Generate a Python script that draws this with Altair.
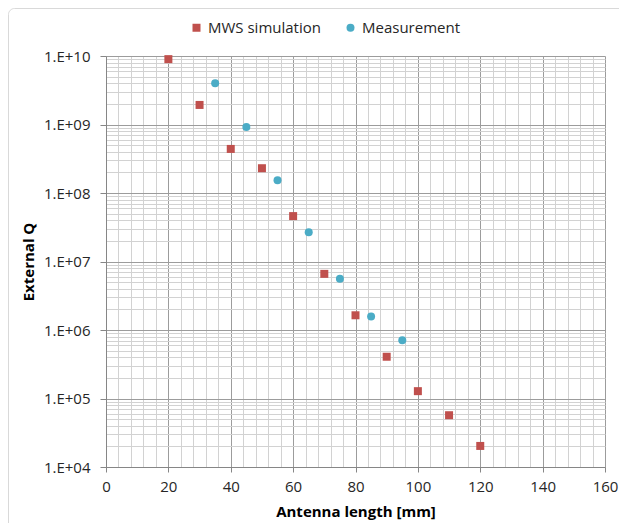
import altair as alt
import pandas as pd

# ---- data ----
mws_x = [20, 30, 40, 50, 60, 70, 80, 90, 100, 110, 120]
mws_q = [9.0e9, 1.93e9, 4.4e8, 2.3e8, 4.6e7, 6.6e6, 1.64e6, 4.07e5, 1.28e5, 5.7e4, 2.03e4]
meas_x = [35, 45, 55, 65, 75, 85, 95]
meas_q = [4.0e9, 9.2e8, 1.53e8, 2.67e7, 5.6e6, 1.58e6, 7.1e5]
series_names = ["MWS simulation", "Measurement"]
series_colors = ["#C0504D", "#4BACC6"]
series_shapes = ["square", "circle"]

x_ticks = list(range(0, 161, 4))
y_ticks = [k * 10 ** d for d in range(4, 10) for k in range(1, 10)] + [10 ** 10]

df = pd.DataFrame(
    {
        "x": mws_x + meas_x,
        "q": mws_q + meas_q,
        "series": [series_names[0]] * len(mws_x) + [series_names[1]] * len(meas_x),
    }
)

FONT = "Open Sans"
MAJOR_GRID = "#9c9c9c"
MINOR_GRID = "#d2d2d2"

x_major = "datum.value % 20 == 0"
y_major = "abs(log(datum.value)/LN10 - round(log(datum.value)/LN10)) < 0.000001"

legend = alt.Legend(
    title=None,
    orient="none",
    direction="horizontal",
    legendX=83,
    legendY=-36,
    labelFont=FONT,
    labelFontSize=15,
    labelColor="#262626",
    labelOffset=4,
    columnPadding=22,
    symbolSize=64,
    symbolStrokeWidth=0,
    padding=0,
)

points = (
    alt.Chart(df)
    .mark_point(filled=True, size=64, opacity=1)
    .encode(
        x=alt.X(
            "x:Q",
            scale=alt.Scale(domain=[0, 160], nice=False, zero=False),
            axis=alt.Axis(
                title="Antenna length [mm]",
                values=x_ticks,
                labelExpr=f"{x_major} ? datum.label : ''",
                labelFlush=False,
                labelOverlap=False,
                gridColor={"condition": {"test": x_major, "value": MAJOR_GRID}, "value": MINOR_GRID},
                tickOpacity={"condition": {"test": x_major, "value": 1}, "value": 0},
                tickSize=5,
                labelPadding=7,
                titlePadding=10,
            ),
        ),
        y=alt.Y(
            "q:Q",
            scale=alt.Scale(type="log", domain=[1e4, 1e10], nice=False),
            axis=alt.Axis(
                title="External Q",
                values=y_ticks,
                labelExpr=f"{y_major} ? '1.E+' + format(round(log(datum.value)/LN10), '02d') : ''",
                labelFlush=False,
                labelOverlap=False,
                gridColor={"condition": {"test": y_major, "value": MAJOR_GRID}, "value": MINOR_GRID},
                tickOpacity={"condition": {"test": y_major, "value": 1}, "value": 0},
                tickSize=6,
                labelPadding=10,
                titlePadding=7,
            ),
        ),
        color=alt.Color(
            "series:N",
            scale=alt.Scale(domain=series_names, range=series_colors),
            legend=legend,
        ),
        shape=alt.Shape(
            "series:N",
            scale=alt.Scale(domain=series_names, range=series_shapes),
            legend=legend,
        ),
    )
)

border = (
    alt.Chart(pd.DataFrame({"a": [0]}))
    .mark_rect(fill="transparent", stroke="#d9d9d9", strokeWidth=1, cornerRadius=6, clip=False)
    .encode(
        x=alt.value(-97.5),
        x2=alt.value(800),
        y=alt.value(-47.5),
        y2=alt.value(800),
    )
)

chart = (
    alt.layer(border, points)
    .properties(
        width=499,
        height=411,
        autosize=alt.AutoSizeParams(type="none"),
        padding={"left": 98, "top": 48, "right": 14, "bottom": 56},
    )
    .configure_view(stroke=None)
    .configure_axis(
        labelFont=FONT,
        labelFontSize=15,
        labelColor="#262626",
        titleFont=FONT,
        titleFontSize=15,
        titleFontWeight="bold",
        titleColor="#000000",
        domainColor="#868686",
        tickColor="#868686",
        gridWidth=1,
    )
)

chart.save("out.html", embed_options={"renderer": "svg", "actions": False})
